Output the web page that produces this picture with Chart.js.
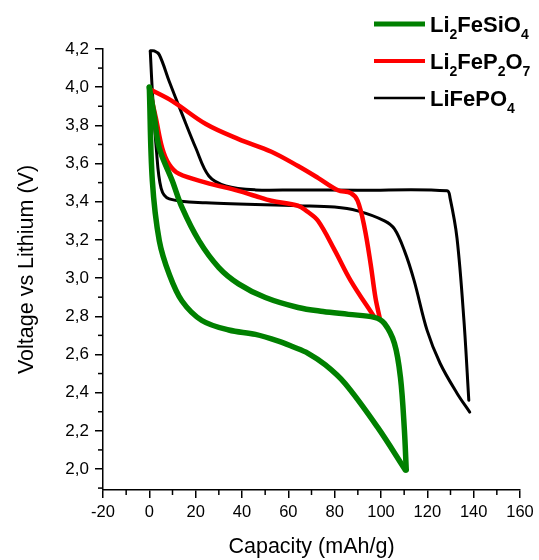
<!DOCTYPE html>
<html><head><meta charset="utf-8">
<script src="https://cdn.jsdelivr.net/npm/chart.js@4.4.1/dist/chart.umd.min.js"></script>
<style>html,body{margin:0;padding:0;background:#fff;}</style>
</head><body>
<canvas id="c" width="539" height="560"></canvas>
<script>
// ---- tick labels ----
const xTicks = [-20, 0, 20, 40, 60, 80, 100, 120, 140, 160];
const yTicks = [2.0, 2.2, 2.4, 2.6, 2.8, 3.0, 3.2, 3.4, 3.6, 3.8, 4.0, 4.2];

// ---- Li2FeSiO4 (green) ----
const greenUpperX = [0, 2.1, 4.3, 9.9, 14.1, 21.4, 30, 38.5, 50.1, 64.2, 75, 86, 97.2, 101.5, 105.8, 108.4, 110.1, 110.9];
const greenUpperY = [4.0, 3.85, 3.68, 3.51, 3.37, 3.196, 3.055, 2.97, 2.898, 2.846, 2.825, 2.81, 2.794, 2.762, 2.658, 2.48, 2.204, 1.995];
const greenLowerX = [0, 1.3, 4.3, 8.6, 14.1, 22.7, 34.3, 45.8, 55.7, 62, 68.5, 76, 84.4, 98.5, 110.5];
const greenLowerY = [4.0, 3.51, 3.196, 3.02, 2.88, 2.778, 2.728, 2.705, 2.67, 2.64, 2.606, 2.545, 2.449, 2.219, 1.995];

// ---- Li2FeP2O7 (red) ----
const redUpperX = [0, 9.9, 24.4, 38.5, 52.7, 64.2, 72.8, 81.4, 86.9, 89.9, 92.9, 95.5, 97.6, 99.4];
const redUpperY = [3.99, 3.927, 3.807, 3.728, 3.662, 3.587, 3.525, 3.46, 3.446, 3.405, 3.264, 3.076, 2.898, 2.794];
const redLowerX = [0, 2.8, 5.6, 8.6, 12.8, 24.4, 38.5, 45.8, 52.7, 64.2, 68, 72.8, 80.1, 86.9, 97.2];
const redLowerY = [3.99, 3.84, 3.68, 3.595, 3.546, 3.5, 3.457, 3.43, 3.405, 3.379, 3.35, 3.30, 3.144, 2.987, 2.794];

// ---- LiFePO4 (black) ----
const blackUpperX = [0.4, 2.1, 4.3, 8.6, 14.1, 20.1, 25.7, 33, 45.8, 64.2, 90, 128.5, 129.8, 132.8, 135.8, 137.9];
const blackUpperY = [4.19, 4.19, 4.17, 4.03, 3.86, 3.68, 3.535, 3.483, 3.462, 3.462, 3.46, 3.457, 3.42, 3.21, 2.778, 2.36];
const blackLowerX = [0.4, 1.3, 3.0, 5.1, 8.6, 24.4, 64.2, 80, 89.9, 101.5, 105.8, 110.1, 114.3, 119.9, 125.5, 132.8, 138.3];
const blackLowerY = [4.19, 3.98, 3.68, 3.47, 3.415, 3.394, 3.379, 3.372, 3.352, 3.30, 3.258, 3.144, 2.987, 2.726, 2.554, 2.397, 2.298];

// ---- legend (text pieces: [text, isSubscript]) ----
const legendLabels = [
  [['Li', 0], ['2', 1], ['FeSiO', 0], ['4', 1]],
  [['Li', 0], ['2', 1], ['FeP', 0], ['2', 1], ['O', 0], ['7', 1]],
  [['LiFePO', 0], ['4', 1]]
];
const seriesNames = ['Li₂FeSiO₄', 'Li₂FeP₂O₇', 'LiFePO₄'];
const seriesColors = ['#008000', '#ff0000', '#000000'];
const seriesWidths = [5.5, 4.5, 3];

function pts(xs, ys) { return xs.map((x, i) => ({ x: x, y: ys[i] })); }

const branches = [
  [greenUpperX, greenUpperY, 0], [greenLowerX, greenLowerY, 0],
  [redUpperX, redUpperY, 1], [redLowerX, redLowerY, 1],
  [blackUpperX, blackUpperY, 2], [blackLowerX, blackLowerY, 2]
];
const datasets = branches.map(b => ({
  label: seriesNames[b[2]],
  data: pts(b[0], b[1]),
  borderColor: seriesColors[b[2]],
  borderWidth: seriesWidths[b[2]],
  pointRadius: 0,
  showLine: true,
  fill: false,
  tension: 0.35,
  clip: 6,
  borderCapStyle: 'round',
  borderJoinStyle: 'round'
}));

const FONT = '"Liberation Sans", Arial, sans-serif';

const minorTicks = {
  id: 'minorTicks',
  afterDraw(chart) {
    const ctx = chart.ctx;
    const xs = chart.scales.x, ys = chart.scales.y;
    ctx.save();
    ctx.strokeStyle = '#000';
    ctx.lineWidth = 1.5;
    const len = 5;
    for (let i = 0; i < xTicks.length - 1; i++) {
      const v = (xTicks[i] + xTicks[i + 1]) / 2;
      const px = xs.getPixelForValue(v);
      ctx.beginPath(); ctx.moveTo(px, xs.top); ctx.lineTo(px, xs.top + len); ctx.stroke();
    }
    const yMinor = [yTicks[0] - (yTicks[1] - yTicks[0]) / 2];
    for (let i = 0; i < yTicks.length - 1; i++) yMinor.push((yTicks[i] + yTicks[i + 1]) / 2);
    yMinor.forEach(v => {
      const py = ys.getPixelForValue(v);
      ctx.beginPath(); ctx.moveTo(ys.right, py); ctx.lineTo(ys.right - len, py); ctx.stroke();
    });
    ctx.restore();
  }
};

const customLegend = {
  id: 'customLegend',
  afterDraw(chart) {
    const ctx = chart.ctx;
    ctx.save();
    const lineX0 = 374, lineX1 = 425, textX = 430;
    const rowY = [24, 61, 98];
    legendLabels.forEach((parts, i) => {
      const y = rowY[i];
      ctx.strokeStyle = seriesColors[i];
      ctx.lineWidth = seriesWidths[i] - 0.5;
      ctx.beginPath(); ctx.moveTo(lineX0, y); ctx.lineTo(lineX1, y); ctx.stroke();
      let x = textX;
      ctx.fillStyle = '#000';
      ctx.textBaseline = 'alphabetic';
      parts.forEach(p => {
        if (p[1]) {
          ctx.font = 'bold 14px ' + FONT;
          ctx.fillText(p[0], x, y + 15);
        } else {
          ctx.font = 'bold 22px ' + FONT;
          ctx.fillText(p[0], x, y + 8);
        }
        x += ctx.measureText(p[0]).width;
      });
    });
    ctx.restore();
  }
};

new Chart(document.getElementById('c'), {
  type: 'scatter',
  data: { datasets: datasets },
  options: {
    responsive: false,
    animation: false,
    devicePixelRatio: 1,
    layout: { padding: { left: 0, right: 19, top: 49, bottom: 0 } },
    plugins: { legend: { display: false }, tooltip: { enabled: false } },
    scales: {
      x: {
        type: 'linear',
        min: -20, max: 160,
        afterBuildTicks: s => { s.ticks = xTicks.map(v => ({ value: v })); },
        afterFit: s => { s.height = 70; },
        border: { display: true, color: '#000', width: 1.5 },
        grid: { display: true, drawOnChartArea: false, drawTicks: true, tickLength: 8, color: '#000', lineWidth: 1.5 },
        ticks: { color: '#000', font: { family: FONT, size: 16.5 }, padding: 5, maxRotation: 0, autoSkip: false },
        title: { display: true, text: 'Capacity (mAh/g)', color: '#000', font: { family: FONT, size: 21.5 }, padding: { top: 0, bottom: 0 } }
      },
      y: {
        type: 'linear',
        min: 1.89, max: 4.2,
        afterBuildTicks: s => { s.ticks = yTicks.map(v => ({ value: v })); },
        afterFit: s => { s.width = 103; },
        border: { display: true, color: '#000', width: 1.5 },
        grid: { display: true, drawOnChartArea: false, drawTicks: true, tickLength: 8, color: '#000', lineWidth: 1.5 },
        ticks: { color: '#000', font: { family: FONT, size: 17 }, padding: 6, autoSkip: false,
          callback: v => v.toFixed(1).replace('.', ',') },
        title: { display: true, text: 'Voltage vs Lithium (V)', color: '#000', font: { family: FONT, size: 21.5 }, padding: { top: 14, bottom: 0 } }
      }
    }
  },
  plugins: [minorTicks, customLegend]
});
</script>
</body></html>
